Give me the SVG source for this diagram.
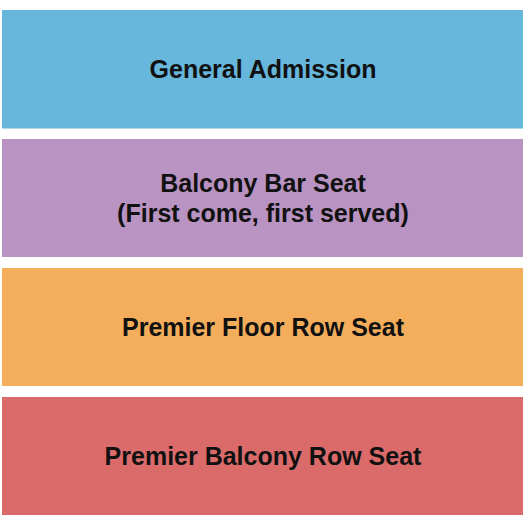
<svg xmlns="http://www.w3.org/2000/svg" width="525" height="525" viewBox="0 0 525 525">
<style>
.lbl{font-family:"Liberation Sans",Arial,sans-serif;font-weight:bold;font-size:25px;fill:#111;text-anchor:middle}
</style>
<rect width="525" height="525" fill="#fff"/>
<g id="general-admission">
<rect x="2" y="10" width="521" height="118.5" fill="#67b6dc"/>
<text class="lbl" x="263" y="78">General Admission</text>
</g>
<g id="balcony-bar-seat">
<rect x="2" y="139" width="521" height="118" fill="#b993c1"/>
<text class="lbl" x="263" y="192">Balcony Bar Seat</text>
<text class="lbl" x="263" y="222">(First come, first served)</text>
</g>
<g id="premier-floor-row-seat">
<rect x="2" y="268" width="521" height="118" fill="#f3ad5b"/>
<text class="lbl" x="263" y="335.5">Premier Floor Row Seat</text>
</g>
<g id="premier-balcony-row-seat">
<rect x="2" y="397" width="521" height="118" fill="#db6b6b"/>
<text class="lbl" x="263" y="464.5">Premier Balcony Row Seat</text>
</g>
</svg>
